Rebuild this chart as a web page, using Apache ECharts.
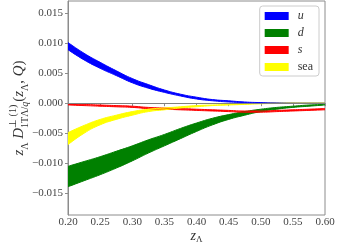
<!DOCTYPE html>
<html><head><meta charset="utf-8">
<script src="https://cdn.jsdelivr.net/npm/echarts@6/dist/echarts.min.js"></script>
<style>html,body{margin:0;padding:0;background:#fff}#c{width:339px;height:249px}</style>
</head><body><div id="c"></div>
<script>
const zCats = ['0.200','0.225','0.250','0.275','0.300','0.325','0.350','0.375','0.400','0.425','0.450','0.475','0.500','0.525','0.550','0.575','0.600'];
const uUpper = [0.0101,0.0083,0.0068,0.0054,0.0041,0.0031,0.0022,0.0015,0.0010,0.0006,0.0004,0.0002,0.0001,0.00005,0.00002,0.00001,0];
const uLower = [0.0089,0.0072,0.0058,0.0046,0.0034,0.0025,0.0018,0.0012,0.0007,0.0004,0.0002,0.0001,0.00005,0.00002,0.00001,0,0];
const dUpper = [-0.0105,-0.0097,-0.0089,-0.0080,-0.0071,-0.0061,-0.0052,-0.0042,-0.0033,-0.0025,-0.0019,-0.0014,-0.0010,-0.0007,-0.0005,-0.0003,-0.0002];
const dLower = [-0.0139,-0.0129,-0.0119,-0.0108,-0.0096,-0.0083,-0.0071,-0.0059,-0.0047,-0.0036,-0.0027,-0.0020,-0.0014,-0.0010,-0.0007,-0.0005,-0.0003];
const sUpper = [-0.0001,-0.0002,-0.0003,-0.0004,-0.0005,-0.0007,-0.0008,-0.0009,-0.0010,-0.0011,-0.0012,-0.0013,-0.0013,-0.0012,-0.0011,-0.0010,-0.0009];
const sLower = [-0.0003,-0.0004,-0.0005,-0.0006,-0.0007,-0.0009,-0.0010,-0.0011,-0.0012,-0.0013,-0.0014,-0.0015,-0.0015,-0.0014,-0.0013,-0.0012,-0.0011];
const seaUpper = [-0.0049,-0.0037,-0.0027,-0.0020,-0.0014,-0.0010,-0.0008,-0.0006,-0.0004,-0.0003,-0.0002,-0.0001,-0.00005,0,0,0,0];
const seaLower = [-0.0069,-0.0050,-0.0036,-0.0027,-0.0020,-0.0014,-0.0011,-0.0008,-0.0006,-0.0004,-0.0003,-0.0002,-0.0001,-0.00005,0,0,0];
const yTicks = [-0.015,-0.010,-0.005,0,0.005,0.010,0.015];

const SERIF = 'Liberation Serif';
function band(name, color, lower, upper) {
  return [
    {type:'line', name:name+'_base', stack:name, stackStrategy:'all', data:lower, smooth:true,
     symbol:'none', lineStyle:{color:color, width:1}, itemStyle:{color:color}, silent:true},
    {type:'line', name:name, stack:name, stackStrategy:'all', data:upper.map((v,i)=>v-lower[i]), smooth:true,
     symbol:'none', lineStyle:{color:color, width:1}, itemStyle:{color:color}, areaStyle:{color:color, opacity:1}, silent:true}
  ];
}
const series = [].concat(
  band('u','#0000ff',uLower,uUpper),
  band('d','#008000',dLower,dUpper),
  band('s','#ff0000',sLower,sUpper),
  band('sea','#ffff00',seaLower,seaUpper)
);
series.push({type:'line', name:'zero', data:[], markLine:{silent:true, symbol:'none',
  lineStyle:{color:'#808080', width:1.2, type:'solid'}, label:{show:false}, data:[{yAxis:0}]}});

const T = '#333';
const chart = echarts.init(document.getElementById('c'), null, {renderer:'canvas'});
chart.setOption({
  animation:false,
  grid:{left:67, right:14, top:1, bottom:30, show:true, borderColor:'#8c8c8c', borderWidth:1},
  legend:{orient:'vertical', right:20, top:6, itemWidth:24, itemHeight:8, itemGap:5, icon:'rect',
    padding:[4,6,3,5], backgroundColor:'#fff', borderColor:'#cccccc', borderWidth:1, borderRadius:3,
    textStyle:{fontFamily:SERIF, fontSize:12, lineHeight:12, color:T, padding:[0,0,0,4]},
    data:[{name:'u', textStyle:{fontStyle:'italic'}},{name:'d', textStyle:{fontStyle:'italic'}},
          {name:'s', textStyle:{fontStyle:'italic'}},{name:'sea'}]},
  xAxis:{type:'category', data:zCats, boundaryGap:false,
    axisLine:{show:true, lineStyle:{color:'#8c8c8c'}},
    axisTick:{show:true, interval:1, length:3, lineStyle:{color:'#8c8c8c'}},
    axisLabel:{interval:1, margin:2, fontFamily:SERIF, fontSize:11, color:'#444', formatter:v=>Number(v).toFixed(2)},
    splitLine:{show:false},
    name:'{i|z}{sub|Λ}', nameLocation:'middle', nameGap:13, nameMoveOverlap:false,
    nameTextStyle:{rich:{i:{fontFamily:SERIF, fontStyle:'italic', fontSize:14, lineHeight:16, color:T},
      sub:{fontFamily:SERIF, fontSize:9, lineHeight:9, verticalAlign:'bottom', color:T}}}},
  yAxis:{type:'value', min:-0.0186, max:0.0170,
    axisLine:{show:true, lineStyle:{color:'#8c8c8c'}},
    axisTick:{show:true, length:3, customValues:yTicks, lineStyle:{color:'#8c8c8c'}},
    axisLabel:{customValues:yTicks, margin:5, fontFamily:SERIF, fontSize:11, color:'#444',
      formatter:v=>(v<-1e-9?'\u2212':'')+Math.abs(v).toFixed(3)},
    splitLine:{show:false},
    name:'{i|z}{sub|Λ}{n| }{i|D}{sup|⊥ (1)}{sub|1TΛ/}{subi|q}{n|(}{i|z}{sub|Λ}{n|, }{i|Q}{n|)}',
    nameLocation:'middle', nameRotate:90, nameGap:38, nameMoveOverlap:false,
    nameTextStyle:{rich:{
      i:{fontFamily:SERIF, fontStyle:'italic', fontSize:15, lineHeight:22, align:'left', color:T},
      n:{fontFamily:SERIF, fontSize:15, lineHeight:22, align:'left', color:T},
      sub:{fontFamily:SERIF, fontSize:10, lineHeight:10, verticalAlign:'bottom', align:'left', color:T},
      subi:{fontFamily:SERIF, fontStyle:'italic', fontSize:10, lineHeight:10, verticalAlign:'bottom', align:'left', color:T},
      sup:{fontFamily:SERIF, fontSize:10, lineHeight:10, verticalAlign:'top', width:0, align:'left', color:T}
    }}},
  series:series
});
</script></body></html>
